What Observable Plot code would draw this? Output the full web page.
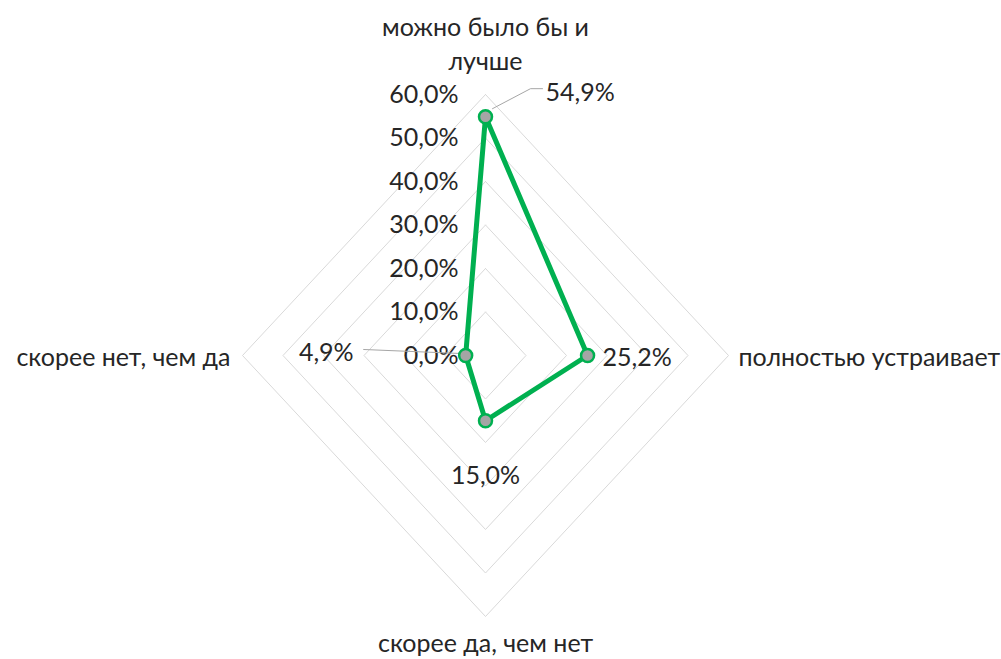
<!DOCTYPE html>
<html>
<head>
<meta charset="utf-8">
<script src="https://cdn.jsdelivr.net/npm/d3@7"></script>
<script src="https://cdn.jsdelivr.net/npm/@observablehq/plot@0.6"></script>
<style>
  html, body { margin: 0; padding: 0; background: #fff; }
  #chart svg { display: block; }
</style>
</head>
<body>
<div id="chart"></div>
<script>
const categories = ["можно было бы и\nлучше", "полностью устраивает", "скорее да, чем нет", "скорее нет, чем да"];
const values = [54.9, 25.2, 15.0, 4.9];
const valueLabels = ["54,9%", "25,2%", "15,0%", "4,9%"];
const gridLevels = [10, 20, 30, 40, 50, 60];
const tickValues = [0, 10, 20, 30, 40, 50, 60];
const tickLabels = ["0,0%", "10,0%", "20,0%", "30,0%", "40,0%", "50,0%", "60,0%"];

// axis directions: top, right, bottom, left
const dirs = [[0, 1], [1, 0], [0, -1], [-1, 0]];
const maxV = 60;

// pixel -> data helpers (for small offsets of leader lines)
const W = 1001, H = 659;
const xRange = [242, 728], yRange = [616, 94];
const kx = (2 * maxV) / (xRange[1] - xRange[0]);
const ky = (2 * maxV) / (yRange[0] - yRange[1]);

const pts = values.map((v, i) => ({x: dirs[i][0] * v, y: dirs[i][1] * v, label: valueLabels[i], i}));
const closed = [...pts, pts[0]];

const grid = [];
gridLevels.forEach(l => {
  [...dirs, dirs[0]].forEach(d => grid.push({x: d[0] * l, y: d[1] * l, level: l}));
});

const ticks = tickValues.map((t, i) => ({x: 0, y: t, label: tickLabels[i]}));
const cats = categories.map((c, i) => ({x: dirs[i][0] * maxV, y: dirs[i][1] * maxV, label: c, i}));

// leader lines (offsets in px from the point)
const leaderOffsets = {
  0: [[7, -8], [45, -28], [57, -28]],
  3: [[-5, -2], [-102, -6]]
};
const leaders = [];
Object.entries(leaderOffsets).forEach(([i, offs]) => {
  const p = pts[+i];
  offs.forEach(o => leaders.push({x: p.x + o[0] * kx, y: p.y - o[1] * ky, id: +i}));
});

const font = "Lato, 'Open Sans', sans-serif";
const textColor = "#262626";
const fs = 25;

const chart = Plot.plot({
  width: W,
  height: H,
  margin: 0,
  x: {domain: [-maxV, maxV], range: xRange, axis: null},
  y: {domain: [-maxV, maxV], range: yRange, axis: null},
  style: {fontFamily: font, background: "#fff"},
  marks: [
    Plot.line(grid, {x: "x", y: "y", z: "level", stroke: "#d9d9d9", strokeWidth: 1}),
    Plot.text(ticks, {x: "x", y: "y", text: "label", textAnchor: "end", dx: -27, fontSize: fs, fill: textColor}),
    Plot.line(leaders, {x: "x", y: "y", z: "id", stroke: "#a6a6a6", strokeWidth: 1}),
    Plot.line(closed, {x: "x", y: "y", stroke: "#00b050", strokeWidth: 5, strokeLinejoin: "round"}),
    Plot.dot(pts, {x: "x", y: "y", r: 6.5, fill: "#a5a5a5", stroke: "#00b050", strokeWidth: 2.5}),
    // value labels
    Plot.text(pts.filter(d => d.i === 0), {x: "x", y: "y", text: "label", textAnchor: "start", dx: 60, dy: -24, fontSize: fs, fill: textColor}),
    Plot.text(pts.filter(d => d.i === 1), {x: "x", y: "y", text: "label", textAnchor: "start", dx: 15, dy: 2, fontSize: fs, fill: textColor}),
    Plot.text(pts.filter(d => d.i === 2), {x: "x", y: "y", text: "label", textAnchor: "middle", dx: 0, dy: 55, fontSize: fs, fill: textColor}),
    Plot.text(pts.filter(d => d.i === 3), {x: "x", y: "y", text: "label", textAnchor: "end", dx: -112, dy: -3, fontSize: fs, fill: textColor}),
    // category labels
    Plot.text(cats.filter(d => d.i === 0), {x: "x", y: "y", text: "label", textAnchor: "middle", lineAnchor: "bottom", dy: -25, lineHeight: 1.36, fontSize: fs, fill: textColor}),
    Plot.text(cats.filter(d => d.i === 1), {x: "x", y: "y", text: "label", textAnchor: "start", dx: 10, dy: 2, fontSize: fs, fill: textColor}),
    Plot.text(cats.filter(d => d.i === 2), {x: "x", y: "y", text: "label", textAnchor: "middle", dy: 27, fontSize: fs, fill: textColor}),
    Plot.text(cats.filter(d => d.i === 3), {x: "x", y: "y", text: "label", textAnchor: "end", dx: -12, dy: 2, fontSize: fs, fill: textColor})
  ]
});
document.getElementById("chart").appendChild(chart);
</script>
</body>
</html>
